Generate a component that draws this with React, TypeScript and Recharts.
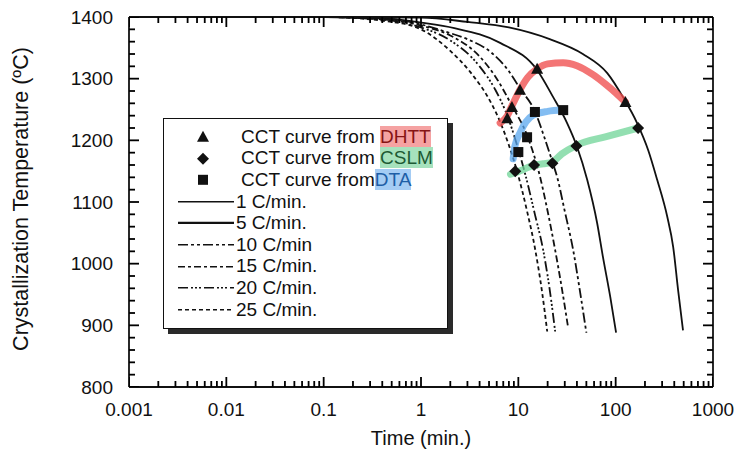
import React from "react"
import { ComposedChart, Line, Scatter, XAxis, YAxis } from "recharts"

// cooling curves: time (min.) and temperature (°C)
const rate1Time = [0.001, 0.1, 1, 3, 8, 21, 46, 82, 119, 166, 216, 267, 339, 390, 438, 492]
const rate1Temp = [1400, 1400, 1399, 1392, 1383, 1364, 1340, 1309, 1270, 1228, 1184, 1136, 1076, 1027, 957, 892]

const rate5Time = [0.001, 0.1, 0.5, 1, 2.2, 6.5, 15.6, 22.8, 31.7, 40, 51, 64.5, 74, 88, 101]
const rate5Temp = [1400, 1400, 1397, 1391, 1382, 1358, 1314, 1270, 1228, 1190, 1136, 1066, 1011, 946, 888]

const rate10Time = [0.001, 0.1, 0.5, 1, 1.8, 3, 5.3, 8, 10.4, 14.8, 18.5, 22.4, 25, 30, 36.6, 43, 50]
const rate10Temp = [1400, 1400, 1396, 1388, 1376, 1364, 1342, 1312, 1284, 1247, 1205, 1165, 1141, 1085, 1022, 955, 888]

const rate15Time = [0.001, 0.1, 0.5, 1, 2, 4, 6, 8.6, 12.3, 16.7, 20, 23.9, 28, 32.5]
const rate15Temp = [1400, 1400, 1395, 1386, 1370, 1336, 1300, 1256, 1208, 1141, 1085, 1022, 960, 896]

const rate20Time = [0.001, 0.1, 0.5, 1, 2, 4, 5.8, 7.7, 9.8, 12, 14.8, 18, 21, 23.9]
const rate20Temp = [1400, 1400, 1394, 1383, 1362, 1320, 1282, 1240, 1190, 1140, 1080, 1022, 958, 890]

const rate25Time = [0.001, 0.1, 0.5, 1, 2, 3.2, 5.4, 6.5, 8, 9.7, 12.3, 14.9, 17.5, 19.8]
const rate25Temp = [1400, 1400, 1392, 1380, 1345, 1311, 1257, 1230, 1192, 1150, 1085, 1023, 955, 890]

// measured points
const dhttTime = [7.7, 8.6, 10.4, 15.6, 126]
const dhttTemp = [1236, 1254, 1282, 1316, 1262]
const cslmTime = [9.3, 14.5, 22.4, 39.5, 170]
const cslmTemp = [1150, 1160, 1163, 1191, 1220]
const dtaTime = [10, 12.3, 14.8, 28.9]
const dtaTemp = [1181, 1205, 1246, 1249]

// hand-drawn highlight strokes
const redTime = [6.5, 7.7, 8.6, 10.4, 12.5, 15.6, 20, 28.9, 40, 59, 80, 100, 126]
const redTemp = [1228, 1240, 1256, 1282, 1302, 1316, 1324, 1326, 1321, 1306, 1290, 1277, 1262]
const greenTime = [8.3, 11, 14.5, 18, 22.4, 28, 39.5, 80, 170]
const greenTemp = [1145, 1152, 1160, 1162, 1165, 1178, 1192, 1206, 1220]
const blueTime = [8.85, 9.2, 10.4, 12, 14.2, 20, 28.5]
const blueTemp = [1170, 1190, 1212, 1230, 1241, 1247, 1249]

const xMajor = [0.001, 0.01, 0.1, 1, 10, 100, 1000]
const xLabels = ["0.001", "0.01", "0.1", "1", "10", "100", "1000"]
const xMinorSteps = [2, 3, 4, 5, 6, 7, 8, 9]
const yMajor = [800, 900, 1000, 1100, 1200, 1300, 1400]
const yMinorSteps = [20, 40, 60, 80]

const xTicks = [...xMajor, ...xMajor.slice(0, -1).flatMap((m) => xMinorSteps.map((s) => m * s))].sort((a, b) => a - b)
const yTicks = [...yMajor, ...yMajor.slice(0, -1).flatMap((m) => yMinorSteps.map((s) => m + s))].sort((a, b) => a - b)

const pts = (time: number[], temp: number[]) => time.map((t, i) => ({ t, T: temp[i] }))

const curves = [
  { name: "1 C/min.", data: pts(rate1Time, rate1Temp), dash: undefined as string | undefined },
  { name: "5 C/min.", data: pts(rate5Time, rate5Temp), dash: undefined },
  { name: "10 C/min", data: pts(rate10Time, rate10Temp), dash: "10 3 3 3 3 3" },
  { name: "15 C/min.", data: pts(rate15Time, rate15Temp), dash: "7 3 3 3" },
  { name: "20 C/min.", data: pts(rate20Time, rate20Temp), dash: "10 3 2 2 2 2 2 3" },
  { name: "25 C/min.", data: pts(rate25Time, rate25Temp), dash: "4 3" },
]

const FONT = "'Liberation Sans', Arial, Helvetica, sans-serif"
const INK = "#111"
const TICK_W = 1.8
const MAJOR_LEN = 10
const MINOR_LEN = 6

const majorIndex = (v: number) => xMajor.findIndex((m) => Math.abs(m - v) < m * 1e-6)

// inward tick marks of the frame, placed by the chart scales at the frame edges
const [yLo, yHi] = [yMajor[0], yMajor[yMajor.length - 1]]
const [xLo, xHi] = [xMajor[0], xMajor[xMajor.length - 1]]
const bottomMarks = xTicks.map((t) => ({ t, T: yLo, major: majorIndex(t) >= 0 }))
const topMarks = xTicks.map((t) => ({ t, T: yHi, major: majorIndex(t) >= 0 }))
const leftMarks = yTicks.map((T) => ({ t: xLo, T, major: yMajor.includes(T) }))
const rightMarks = yTicks.map((T) => ({ t: xHi, T, major: yMajor.includes(T) }))

const markLen = (p: any) => (p.payload && p.payload.major ? MAJOR_LEN : MINOR_LEN)
const UpMark = (p: any) => <line x1={p.cx} x2={p.cx} y1={p.cy} y2={p.cy - markLen(p)} stroke="#000" strokeWidth={TICK_W} />
const DownMark = (p: any) => <line x1={p.cx} x2={p.cx} y1={p.cy} y2={p.cy + markLen(p)} stroke="#000" strokeWidth={TICK_W} />
const RightMark = (p: any) => <line x1={p.cx} x2={p.cx + markLen(p)} y1={p.cy} y2={p.cy} stroke="#000" strokeWidth={TICK_W} />
const LeftMark = (p: any) => <line x1={p.cx} x2={p.cx - markLen(p)} y1={p.cy} y2={p.cy} stroke="#000" strokeWidth={TICK_W} />

const BottomTick = (props: any) => {
  const { x, y, payload } = props
  const idx = majorIndex(payload.value)
  if (idx < 0) return <g />
  return (
    <text x={x} y={y + 16} dy="0.71em" textAnchor="middle" fontSize={19} fontFamily={FONT} fill={INK}>
      {xLabels[idx]}
    </text>
  )
}

const LeftTick = (props: any) => {
  const { x, y, payload } = props
  if (!yMajor.includes(payload.value)) return <g />
  return (
    <text x={x - 16} y={y} dy="0.35em" textAnchor="end" fontSize={19} fontFamily={FONT} fill={INK}>
      {payload.value}
    </text>
  )
}

const Triangle = (p: any) => (
  <polygon points={`${p.cx},${p.cy - 6} ${p.cx + 6},${p.cy + 5} ${p.cx - 6},${p.cy + 5}`} fill="#111" />
)
const Diamond = (p: any) => (
  <polygon points={`${p.cx},${p.cy - 6} ${p.cx + 6},${p.cy} ${p.cx},${p.cy + 6} ${p.cx - 6},${p.cy}`} fill="#111" />
)
const Square = (p: any) => <rect x={p.cx - 5} y={p.cy - 5} width={10} height={10} fill="#111" />

const LegendBox = () => {
  const rowH = 21.6
  const markerRows = [
    { shape: "tri", pre: "CCT curve from ", tag: "DHTT", bg: "#f5a2a2", fg: "#861414" },
    { shape: "dia", pre: "CCT curve from ", tag: "CSLM", bg: "#a6e2bd", fg: "#1c5a34" },
    { shape: "sq", pre: "CCT curve from", tag: "DTA", bg: "#a4ccf4", fg: "#1d5ea6" },
  ]
  return (
    <div
      style={{
        position: "absolute",
        left: 163,
        top: 118,
        width: 285,
        height: 211,
        border: `1.5px solid ${INK}`,
        boxShadow: "5px 5px 0 #2a2a2a",
        background: "#fff",
        fontFamily: FONT,
        fontSize: 19,
        color: INK,
        paddingTop: 7,
        boxSizing: "border-box",
      }}
    >
      {markerRows.map((r) => (
        <div key={r.tag} style={{ display: "flex", alignItems: "center", height: rowH, whiteSpace: "pre" }}>
          <svg width={77} height={rowH}>
            {r.shape === "tri" && <Triangle cx={39} cy={rowH / 2} />}
            {r.shape === "dia" && <Diamond cx={39} cy={rowH / 2} />}
            {r.shape === "sq" && <Square cx={39} cy={rowH / 2} />}
          </svg>
          <span>
            {r.pre}
            <span style={{ background: r.bg, color: r.fg }}>{r.tag}</span>
          </span>
        </div>
      ))}
      {curves.map((c, i) => (
        <div key={c.name} style={{ display: "flex", alignItems: "center", height: rowH, whiteSpace: "pre" }}>
          <svg width={72} height={rowH}>
            <line
              x1={14}
              x2={70}
              y1={rowH / 2}
              y2={rowH / 2}
              stroke={INK}
              strokeWidth={i === 1 ? 2.2 : 1.6}
              strokeDasharray={c.dash}
            />
          </svg>
          <span>{c.name}</span>
        </div>
      ))}
    </div>
  )
}

const axisLine = { stroke: INK, strokeWidth: 1.8 }

export default function App() {
  return (
    <div style={{ position: "absolute", left: 0, top: 0, width: 735, height: 455, background: "#fff" }}>
      <ComposedChart width={735} height={455} margin={{ top: 0, right: 0, bottom: 0, left: 0 }}>
        <XAxis
          dataKey="t"
          type="number"
          scale="log"
          domain={[0.001, 1000]}
          allowDataOverflow
          ticks={xTicks}
          interval={0}
          height={68}
          tickSize={0}
          tickMargin={0}
          tick={(p: any) => <BottomTick {...p} />}
          axisLine={axisLine}
          tickLine={false}
          label={{
            content: ({ viewBox }: any) => (
              <text
                x={viewBox.x + viewBox.width / 2}
                y={viewBox.y + 58}
                textAnchor="middle"
                fontSize={20}
                fontFamily={FONT}
                fill={INK}
              >
                Time (min.)
              </text>
            ),
          }}
        />
        <XAxis
          xAxisId="top"
          orientation="top"
          dataKey="t"
          type="number"
          scale="log"
          domain={[0.001, 1000]}
          allowDataOverflow
          ticks={xMajor}
          interval={0}
          height={17}
          tick={false}
          axisLine={axisLine}
          tickLine={false}
        />
        <YAxis
          type="number"
          domain={[800, 1400]}
          allowDataOverflow
          ticks={yTicks}
          interval={0}
          width={129}
          tickSize={0}
          tickMargin={0}
          tick={(p: any) => <LeftTick {...p} />}
          axisLine={axisLine}
          tickLine={false}
          label={{
            content: ({ viewBox }: any) => {
              const cx = viewBox.x + 28
              const cy = viewBox.y + viewBox.height / 2 - 3
              return (
                <text
                  x={cx}
                  y={cy}
                  transform={`rotate(-90 ${cx} ${cy})`}
                  textAnchor="middle"
                  fontSize={21.5}
                  fontFamily={FONT}
                  fill={INK}
                >
                  Crystallization Temperature (ºC)
                </text>
              )
            },
          }}
        />
        <YAxis
          yAxisId="right"
          orientation="right"
          type="number"
          domain={[800, 1400]}
          allowDataOverflow
          ticks={yMajor}
          interval={0}
          width={22}
          tick={false}
          axisLine={axisLine}
          tickLine={false}
        />

        {curves.map((c) => (
          <Line
            key={c.name}
            data={c.data}
            dataKey="T"
            type="monotone"
            stroke={INK}
            strokeWidth={1.8}
            strokeDasharray={c.dash}
            dot={false}
            activeDot={false}
            isAnimationActive={false}
          />
        ))}

        <Scatter data={bottomMarks} dataKey="T" shape={UpMark} isAnimationActive={false} />
        <Scatter data={topMarks} dataKey="T" shape={DownMark} isAnimationActive={false} />
        <Scatter data={leftMarks} dataKey="T" shape={RightMark} isAnimationActive={false} />
        <Scatter data={rightMarks} dataKey="T" shape={LeftMark} isAnimationActive={false} />

        <Scatter data={pts(dhttTime, dhttTemp)} dataKey="T" shape={Triangle} isAnimationActive={false} />
        <Scatter data={pts(cslmTime, cslmTemp)} dataKey="T" shape={Diamond} isAnimationActive={false} />
        <Scatter data={pts(dtaTime, dtaTemp)} dataKey="T" shape={Square} isAnimationActive={false} />

        <Line
          data={pts(redTime, redTemp)}
          dataKey="T"
          type="monotone"
          stroke="#f04e4e"
          strokeOpacity={0.78}
          strokeWidth={7}
          strokeLinecap="round"
          dot={false}
          activeDot={false}
          isAnimationActive={false}
        />
        <Line
          data={pts(greenTime, greenTemp)}
          dataKey="T"
          type="monotone"
          stroke="#6fd497"
          strokeOpacity={0.75}
          strokeWidth={7}
          strokeLinecap="round"
          dot={false}
          activeDot={false}
          isAnimationActive={false}
        />
        <Line
          data={pts(blueTime, blueTemp)}
          dataKey="T"
          type="monotone"
          stroke="#5aa7ee"
          strokeOpacity={0.75}
          strokeWidth={7}
          strokeLinecap="round"
          dot={false}
          activeDot={false}
          isAnimationActive={false}
        />
      </ComposedChart>
      <LegendBox />
    </div>
  )
}
